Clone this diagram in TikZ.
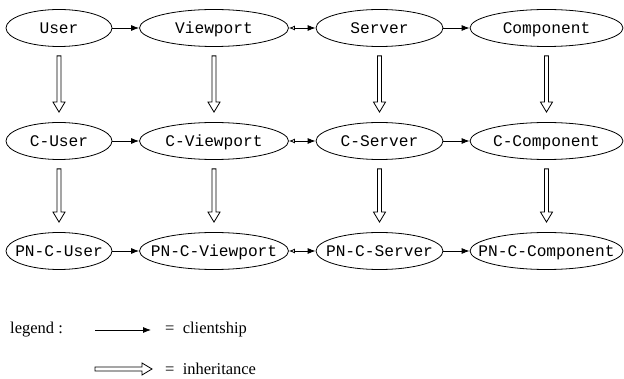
\documentclass[tikz,border=0pt]{standalone}
\usepackage{fontspec}
\setmainfont{Liberation Serif}
\setmonofont{Liberation Mono}
\usetikzlibrary{shapes.geometric,arrows.meta,calc}

% hollow block arrow pointing down from one class to its heir
\newcommand\inhdown[2]{%
  \draw[inh] ($(#1.south)+(-2,9)$) -- ($(#2.north)+(-2,-20)$)
    -- ($(#2.north)+(-6,-20)$) -- ($(#2.north)+(0,-10)$)
    -- ($(#2.north)+(6,-20)$) -- ($(#2.north)+(2,-20)$)
    -- ($(#1.south)+(2,9)$) -- cycle;}
% class name set in a box of no width, so the ellipse keeps its given size
\newcommand\cname[1]{\makebox[0pt]{#1}}

\begin{document}
\begin{tikzpicture}[x=1pt,y=-1pt,
  cls/.style={ellipse, draw, line width=0.8pt, inner sep=0pt,
    text height=13pt, text depth=1.5pt,
    minimum height=37pt, font=\ttfamily\fontsize{16.2}{18}\selectfont},
  w1/.style={minimum width=106pt},
  w2/.style={minimum width=149pt},
  w3/.style={minimum width=127pt},
  w4/.style={minimum width=153pt},
  client/.style={line width=0.8pt, -{Latex[length=8pt,width=6pt]}},
  mutual/.style={line width=0.8pt,
    {Latex[length=6pt,width=5pt,open]}-{Latex[length=8pt,width=6pt]}},
  inh/.style={line width=0.8pt, line join=miter},
  lbl/.style={inner sep=0pt, anchor=west, font=\fontsize{16.5}{18}\selectfont}]
\useasboundingbox (0,0) rectangle (624,379);

% classes, one row per level of inheritance
\node[cls,w1] (u1) at (59,28)    {\cname{User}};
\node[cls,w2] (v1) at (214,28)   {\cname{Viewport}};
\node[cls,w3] (s1) at (379.5,28) {\cname{Server}};
\node[cls,w4] (c1) at (546.5,28) {\cname{Component}};

\node[cls,w1] (u2) at (59,141)    {\cname{C-User}};
\node[cls,w2] (v2) at (214,141)   {\cname{C-Viewport}};
\node[cls,w3] (s2) at (379.5,141) {\cname{C-Server}};
\node[cls,w4] (c2) at (546.5,141) {\cname{C-Component}};

\node[cls,w1] (u3) at (59,251)    {\cname{PN-C-User}};
\node[cls,w2] (v3) at (214,251)   {\cname{PN-C-Viewport}};
\node[cls,w3] (s3) at (379.5,251) {\cname{PN-C-Server}};
\node[cls,w4] (c3) at (546.5,251) {\cname{PN-C-Component}};

% clientship along each row
\foreach \r in {1,2,3}{
  \draw[client] (u\r) -- (v\r);
  \draw[mutual] (v\r) -- (s\r);
  \draw[client] (s\r) -- (c\r);
}

% inheritance down each column
\foreach \c in {u,v,s,c}{
  \inhdown{\c1}{\c2}
  \inhdown{\c2}{\c3}
}

% legend
\node[lbl] (leg) at (10,330) {legend :};
\coordinate (ca) at (95,330);
\coordinate (cb) at (151,330);
\draw[client] (ca) -- (cb);
\node[lbl] (cl) at (165,330) {=\enspace clientship};
\coordinate (ia) at (95,369);
\coordinate (ib) at (152,369);
\draw[inh] ($(ia)+(0,-2)$) -- ($(ib)+(-10,-2)$) -- ($(ib)+(-10,-6)$)
  -- (ib) -- ($(ib)+(-10,6)$) -- ($(ib)+(-10,2)$) -- ($(ia)+(0,2)$) -- cycle;
\node[lbl] (il) at (165,369) {=\enspace inheritance};
\end{tikzpicture}
\end{document}
